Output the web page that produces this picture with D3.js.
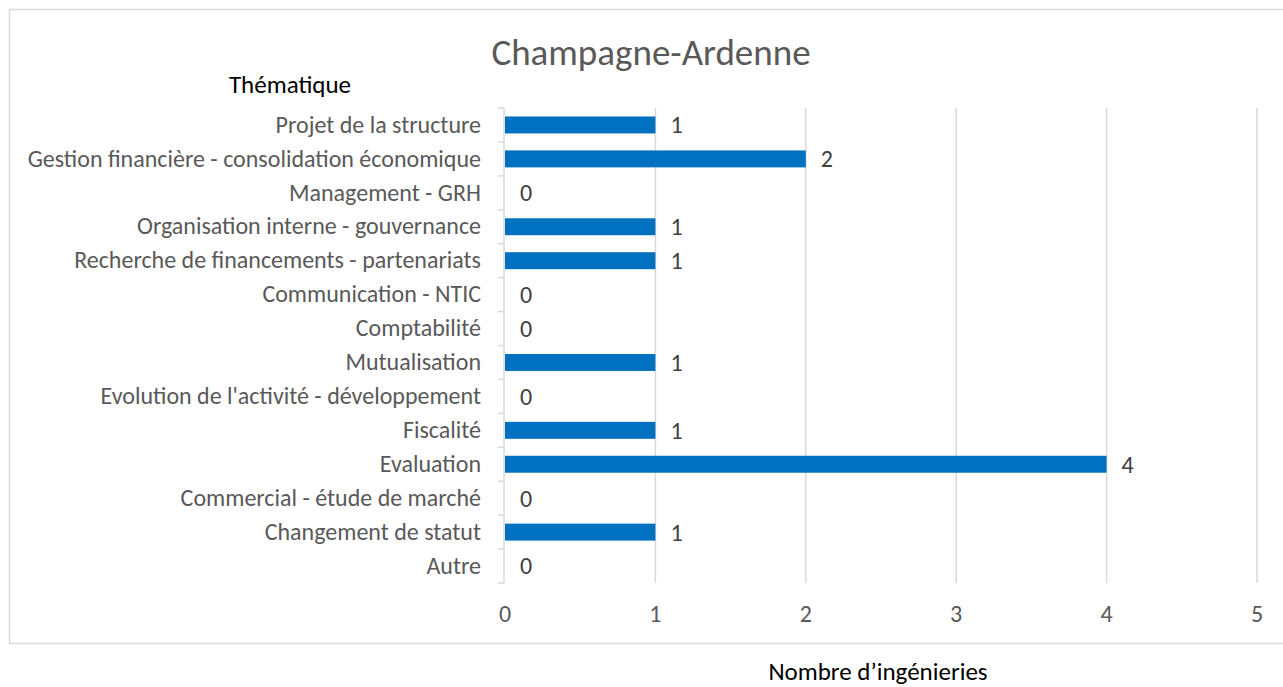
<!DOCTYPE html>
<html>
<head>
<meta charset="utf-8">
<script src="https://cdn.jsdelivr.net/npm/d3@7"></script>
<style>
  body { margin: 0; background: #fff; }
  svg { display: block; font-family: Carlito, Calibri, Lato, sans-serif; }
</style>
</head>
<body>
<script>
const categories = [
  'Projet de la structure',
  'Gestion financière - consolidation économique',
  'Management - GRH',
  'Organisation interne - gouvernance',
  'Recherche de financements - partenariats',
  'Communication - NTIC',
  'Comptabilité',
  'Mutualisation',
  "Evolution de l'activité - développement",
  'Fiscalité',
  'Evaluation',
  'Commercial - étude de marché',
  'Changement de statut',
  'Autre'
]
const values = [1, 2, 0, 1, 1, 0, 0, 1, 0, 1, 4, 0, 1, 0]
const xTicks = [0, 1, 2, 3, 4, 5]

const width = 1283
const height = 687
const margin = { top: 108, left: 505, right: 26, bottom: 104 }

const svg = d3.select('body').append('svg')
  .attr('width', width)
  .attr('height', height)

// chart frame
svg.append('rect')
  .attr('x', 9.5)
  .attr('y', 9.5)
  .attr('width', 1290)
  .attr('height', 634)
  .attr('fill', '#fff')
  .attr('stroke', '#d9d9d9')
  .attr('stroke-width', 1.5)

const x = d3.scaleLinear()
  .domain([0, 5])
  .range([margin.left, width - margin.right])

const y = d3.scaleBand()
  .domain(categories)
  .range([margin.top, height - margin.bottom])
  .paddingInner(0.5)
  .paddingOuter(0.25)

// gridlines
svg.append('g')
  .selectAll('line')
  .data(xTicks.slice(1))
  .join('line')
  .attr('x1', d => x(d))
  .attr('x2', d => x(d))
  .attr('y1', margin.top)
  .attr('y2', height - margin.bottom)
  .attr('stroke', '#d9d9d9')
  .attr('stroke-width', 1.5)

// x tick labels
svg.append('g')
  .selectAll('text')
  .data(xTicks)
  .join('text')
  .attr('x', d => x(d))
  .attr('y', 622)
  .attr('text-anchor', 'middle')
  .attr('font-size', 24)
  .attr('fill', '#595959')
  .text(d => d)

// bars
svg.append('g')
  .selectAll('rect')
  .data(values)
  .join('rect')
  .attr('x', x(0))
  .attr('y', (d, i) => y(categories[i]))
  .attr('width', d => x(d) - x(0))
  .attr('height', y.bandwidth())
  .attr('fill', '#0070c0')

// value labels
svg.append('g')
  .selectAll('text')
  .data(values)
  .join('text')
  .attr('x', d => x(d) + 15)
  .attr('y', (d, i) => y(categories[i]) + y.bandwidth() / 2)
  .attr('dy', '0.35em')
  .attr('font-size', 24)
  .attr('fill', '#404040')
  .text(d => d)

// y axis labels
const gy = svg.append('g')
  .attr('transform', `translate(${margin.left - 1},0)`)
  .call(d3.axisLeft(y).tickSize(0).tickPadding(23))
  .attr('font-family', null)
  .attr('font-size', null)
gy.select('.domain').remove()
gy.selectAll('text')
  .attr('font-size', 24)
  .attr('fill', '#595959')

// y axis line and category separators
const yEdges = d3.range(categories.length + 1).map(i => margin.top + i * y.step())
svg.append('line')
  .attr('x1', margin.left - 1).attr('x2', margin.left - 1)
  .attr('y1', margin.top).attr('y2', height - margin.bottom)
  .attr('stroke', '#d9d9d9').attr('stroke-width', 1.5)
svg.append('g')
  .selectAll('line')
  .data(yEdges)
  .join('line')
  .attr('x1', margin.left - 7).attr('x2', margin.left - 1)
  .attr('y1', d => d).attr('y2', d => d)
  .attr('stroke', '#d9d9d9').attr('stroke-width', 1.5)

// titles
svg.append('text')
  .attr('x', 651)
  .attr('y', 65)
  .attr('text-anchor', 'middle')
  .attr('font-size', 37)
  .attr('fill', '#595959')
  .text('Champagne-Ardenne')

svg.append('text')
  .attr('x', 290)
  .attr('y', 93)
  .attr('text-anchor', 'middle')
  .attr('font-size', 25)
  .attr('fill', '#000')
  .text('Thématique')

svg.append('text')
  .attr('x', 878)
  .attr('y', 680)
  .attr('text-anchor', 'middle')
  .attr('font-size', 25)
  .attr('fill', '#000')
  .text('Nombre d’ingénieries')
</script>
</body>
</html>
